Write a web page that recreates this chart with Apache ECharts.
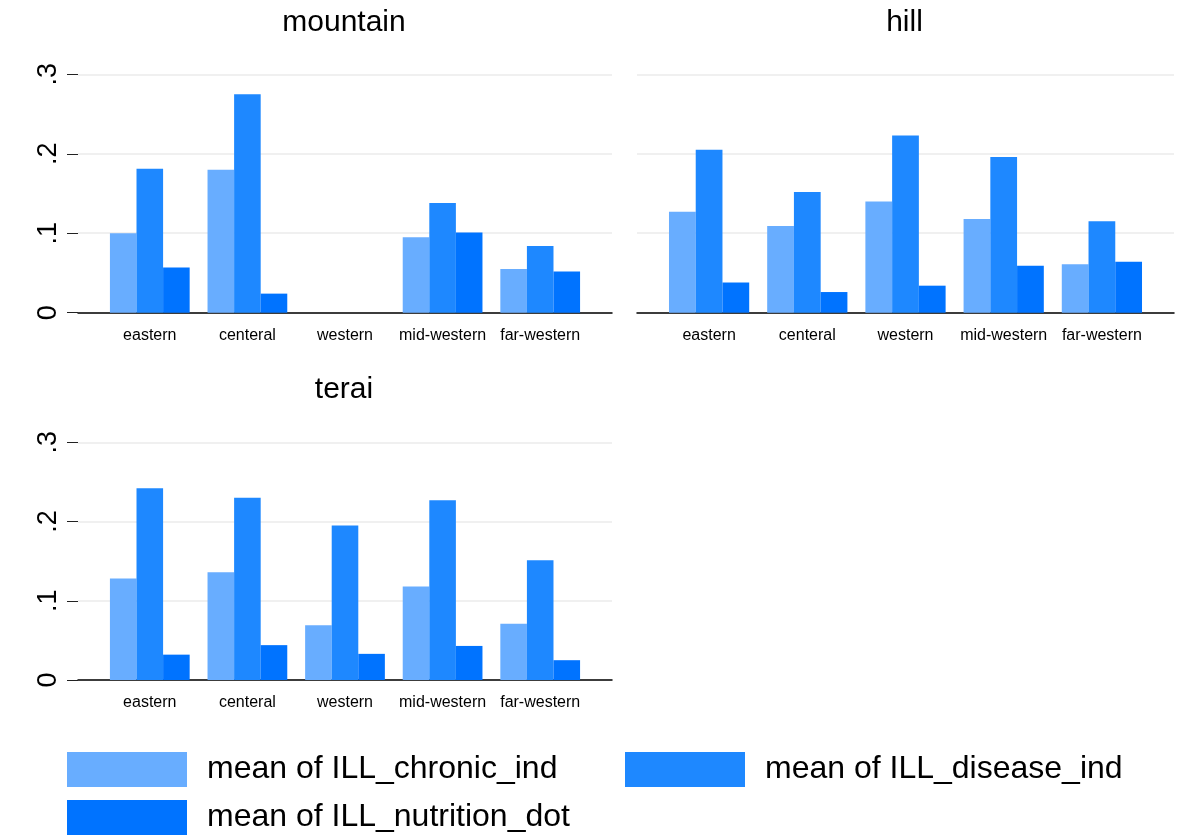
<!DOCTYPE html>
<html>
<head>
<meta charset="utf-8">
<script src="https://cdn.jsdelivr.net/npm/echarts@6/dist/echarts.min.js"></script>
<style>
  html, body { margin: 0; padding: 0; background: #ffffff; }
  #chart { width: 1179px; height: 840px; }
</style>
</head>
<body>
<div id="chart"></div>
<script>
// Regions (x categories) shared by all three panels
const categories = ['eastern', 'centeral', 'western', 'mid-western', 'far-western'];
const panelTitles = ['mountain', 'hill', 'terai'];
const seriesNames = ['mean of ILL_chronic_ind', 'mean of ILL_disease_ind', 'mean of ILL_nutrition_dot'];
const yTicks = [0, 0.1, 0.2, 0.3];

// mountain
const mountainChronic   = [0.100, 0.180, null, 0.095, 0.055];
const mountainDisease   = [0.181, 0.275, null, 0.138, 0.084];
const mountainNutrition = [0.057, 0.024, null, 0.101, 0.052];
// hill
const hillChronic   = [0.127, 0.109, 0.140, 0.118, 0.061];
const hillDisease   = [0.205, 0.152, 0.223, 0.196, 0.115];
const hillNutrition = [0.038, 0.026, 0.034, 0.059, 0.064];
// terai
const teraiChronic   = [0.128, 0.136, 0.069, 0.118, 0.071];
const teraiDisease   = [0.242, 0.230, 0.195, 0.227, 0.151];
const teraiNutrition = [0.032, 0.044, 0.033, 0.043, 0.025];

const colors = ['#68adff', '#1e88ff', '#0073ff'];
const FONT = '"Liberation Sans", Arial, Helvetica, sans-serif';

// Panel frames: outer = plot area (grid lines, baseline); inner = band for the bars
const panels = [
  { title: panelTitles[0], x: 78,  w: 534, top: 74.3,  h: 238.4, yLabels: true,
    data: [mountainChronic, mountainDisease, mountainNutrition], titleTop: 8 },
  { title: panelTitles[1], x: 637, w: 537, top: 74.3,  h: 238.4, yLabels: false,
    data: [hillChronic, hillDisease, hillNutrition], titleTop: 8 },
  { title: panelTitles[2], x: 78,  w: 534, top: 442.3, h: 237.7, yLabels: true,
    data: [teraiChronic, teraiDisease, teraiNutrition], titleTop: 375 }
];
const PAD = 23;

const grid = [], xAxis = [], yAxis = [], series = [], title = [];
const tickFmt = v => (v === 0 ? '0' : String(Math.round(v * 10) / 10).replace(/^0/, ''));

panels.forEach((p, i) => {
  const outer = i * 2, inner = i * 2 + 1;
  grid.push({ left: p.x, top: p.top, width: p.w, height: p.h, containLabel: false });
  grid.push({ left: p.x + PAD, top: p.top, width: p.w - 2 * PAD, height: p.h, containLabel: false });

  title.push({
    text: p.title, left: p.x + p.w / 2 - 1, top: p.titleTop, textAlign: 'center', padding: 0,
    textStyle: { fontFamily: FONT, fontSize: 30, fontWeight: 'normal', color: '#000' }
  });

  // outer frame: baseline only
  xAxis.push({
    gridIndex: outer, type: 'value', min: 0, max: 1,
    axisLine: { show: true, onZero: false, lineStyle: { color: '#000', width: 1.5 } },
    axisTick: { show: false }, axisLabel: { show: false }, splitLine: { show: false }
  });
  yAxis.push({
    gridIndex: outer, type: 'value', min: 0, max: 0.3, interval: 0.1,
    axisLine: { show: false },
    axisTick: { show: p.yLabels, length: 11, lineStyle: { color: '#222', width: 1 } },
    axisLabel: {
      show: p.yLabels, rotate: 90, margin: 16, formatter: tickFmt,
      fontFamily: FONT, fontSize: 27, color: '#000'
    },
    splitLine: { show: true, lineStyle: { color: '#ebebeb', width: 1.5 } }
  });

  // inner band: categories and bars
  xAxis.push({
    gridIndex: inner, type: 'category', data: categories,
    axisLine: { show: false }, axisTick: { show: false },
    axisLabel: { margin: 15, fontFamily: FONT, fontSize: 16, color: '#000', interval: 0 },
    splitLine: { show: false }
  });
  yAxis.push({
    gridIndex: inner, type: 'value', min: 0, max: 0.3, interval: 0.1, show: false
  });

  p.data.forEach((vals, k) => {
    series.push({
      type: 'bar', name: seriesNames[k], xAxisIndex: inner, yAxisIndex: inner,
      data: vals, barGap: '0%', barCategoryGap: '18.3%',
      itemStyle: { color: colors[k] }, silent: true, animation: false
    });
  });
});

// Legend entries, one per measure
const legendPos = [
  { left: 67, top: 748 },
  { left: 625, top: 748 },
  { left: 67, top: 796 }
];
const legend = seriesNames.map((name, k) => ({
  data: [name], left: legendPos[k].left, top: legendPos[k].top,
  orient: 'horizontal', icon: 'rect', itemWidth: 120, itemHeight: 35,
  selectedMode: false, padding: 0,
  textStyle: { fontFamily: FONT, fontSize: 32, color: '#000', lineHeight: 35, padding: [8, 0, 0, 15] }
}));

const chart = echarts.init(document.getElementById('chart'), null, { renderer: 'canvas' });
chart.setOption({
  backgroundColor: '#ffffff',
  animation: false,
  color: colors,
  title, grid, xAxis, yAxis, series, legend
});
</script>
</body>
</html>
